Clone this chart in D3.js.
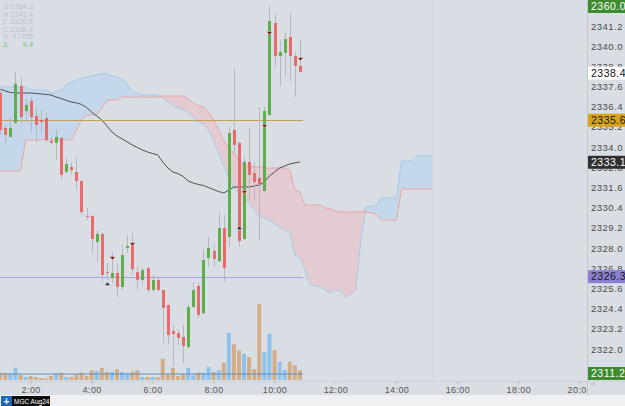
<!DOCTYPE html>
<html><head><meta charset="utf-8">
<script src="https://cdn.jsdelivr.net/npm/d3@7"></script>
<style>
html,body{margin:0;padding:0;background:#d9dee5;overflow:hidden;}
svg{display:block;}
</style></head><body>
<svg id="c" width="625" height="406"></svg>
<script>
// ---------- DATA ----------
const times = [
"01:00","01:10","01:20","01:30","01:40","01:50",
"02:00","02:10","02:20","02:30","02:40","02:50",
"03:00","03:10","03:20","03:30","03:40","03:50",
"04:00","04:10","04:20","04:30","04:40","04:50",
"05:00","05:10","05:20","05:30","05:40","05:50",
"06:00","06:10","06:20","06:30","06:40","06:50",
"07:00","07:10","07:20","07:30","07:40","07:50",
"08:00","08:10","08:20","08:30","08:40","08:50",
"09:00","09:10","09:20","09:30","09:40","09:50",
"10:00","10:10","10:20","10:30","10:40","10:50",
"11:00","11:10","11:20","11:30","11:40","11:50",
"12:00","12:10","12:20","12:30","12:40","12:50",
"13:00","13:10","13:20","13:30","13:40","13:50",
"14:00","14:10","14:20","14:30","14:40","14:50",
"15:00","15:10"];

const opens = [2337.22,2335.14,2334.61,2335.44,2337.64,2336.15,2336.75,2335.85,2335.62,2335.73,
2334.37,2334.25,2334.55,2332.52,2332.82,2332.52,2331.99,2329.91,2329.91,2328.36,
2328.84,2326.57,2326.22,2326.52,2325.69,2328.01,2328.18,2326.57,2326.10,2326.81,
2325.51,2326.10,2325.51,2324.62,2323.07,2322.95,2322.72,2322.12,2324.50,2325.75,
2324.14,2327.41,2327.83,2327.23,2329.19,2328.66,2335.02,2334.25,2328.54,2333.12,
2332.46,2332.17,2331.40,2335.91,2341.38,2339.42,2339.60,2340.55,2339.42,2338.83];
const highs = [2337.52,2335.32,2335.79,2338.47,2338.17,2336.86,2336.98,2336.33,2336.27,2336.03,
2334.61,2335.02,2334.61,2333.36,2333.06,2333.42,2332.05,2330.38,2329.97,2329.07,
2328.90,2327.11,2327.77,2327.11,2328.18,2328.78,2328.90,2326.87,2326.87,2326.93,
2326.40,2326.34,2325.51,2324.62,2323.43,2323.15,2323.43,2324.74,2325.98,2325.98,
2327.89,2328.66,2328.18,2330.15,2329.97,2335.20,2338.71,2334.31,2333.42,2335.14,
2333.06,2336.39,2336.39,2342.39,2341.92,2340.31,2340.79,2341.98,2339.66,2340.43];
const lows = [2334.72,2334.25,2334.55,2335.38,2335.44,2335.50,2334.84,2334.31,2334.90,2334.31,
2334.13,2333.24,2332.05,2332.46,2332.35,2331.45,2329.97,2329.67,2327.71,2327.17,
2325.98,2326.10,2325.92,2325.09,2325.51,2327.71,2326.40,2325.51,2325.80,2325.33,
2325.39,2325.39,2322.36,2322.24,2320.99,2322.24,2321.17,2322.06,2324.44,2323.84,
2324.08,2326.88,2326.88,2327.17,2325.98,2328.07,2333.65,2328.07,2328.48,2330.86,
2330.86,2328.48,2331.34,2335.85,2338.71,2337.64,2338.23,2337.93,2336.98,2338.41];
const closes = [2335.02,2334.72,2335.14,2337.76,2335.79,2336.51,2335.79,2335.32,2335.50,2334.43,
2334.25,2334.61,2332.35,2333.00,2332.64,2331.99,2330.15,2329.88,2328.54,2328.84,
2326.40,2326.55,2326.52,2325.69,2327.59,2328.13,2326.75,2326.10,2326.69,2325.51,
2326.10,2325.51,2324.44,2322.83,2322.89,2322.66,2322.18,2324.50,2325.51,2324.02,
2327.29,2328.01,2327.35,2329.19,2326.82,2334.84,2334.13,2328.42,2333.12,2332.35,
2331.93,2331.81,2336.15,2341.50,2339.42,2339.66,2340.43,2339.42,2338.83,2338.47];
const volumes = [290,290,250,490,200,120,160,120,80,55,
160,250,290,120,130,230,290,160,390,360,
480,330,330,430,320,270,330,390,120,120,
120,120,850,230,490,160,230,490,190,290,
290,520,320,390,690,1890,1430,1190,1050,920,
430,3040,1120,1850,1190,730,400,730,590,390];
const volumeAverage = 240;

const smaValues = [2337.46,2337.34,2337.25,2337.22,2337.22,2337.22,2337.22,2337.19,2337.16,2337.13,
2337.10,2336.98,2336.89,2336.78,2336.69,2336.63,2336.54,2336.36,2336.09,2335.85,
2335.62,2335.26,2334.90,2334.66,2334.49,2334.31,2334.13,2333.98,2333.83,2333.71,
2333.62,2333.54,2333.12,2332.76,2332.52,2332.43,2332.26,2331.99,2331.87,2331.78,
2331.72,2331.60,2331.48,2331.36,2331.28,2331.45,2331.63,2331.63,2331.63,2331.63,
2331.69,2331.75,2331.93,2332.29,2332.52,2332.76,2332.88,2333.00,2333.06,2333.12];

const spanA = [2337.64,2337.58,2337.58,2337.58,2337.58,2337.58,2337.40,2337.40,2337.40,2337.40,
2337.22,2337.28,2337.40,2337.70,2337.87,2337.99,2338.11,2338.17,2338.23,2338.29,
2338.35,2338.35,2338.23,2338.17,2338.05,2337.76,2337.28,2337.16,2337.10,2337.10,
2337.10,2337.10,2336.92,2336.69,2336.45,2336.33,2336.21,2336.09,2335.79,2335.50,
2335.38,2335.02,2334.43,2333.65,2332.94,2332.17,2331.57,2331.28,2330.98,2330.68,
2330.27,2329.91,2329.79,2329.67,2329.43,2329.25,2329.07,2328.96,2327.59,2327.41,
2326.70,2325.81,2325.75,2325.69,2325.51,2325.33,2325.51,2325.45,2325.09,2325.27,
2325.51,2328.48,2330.44,2330.50,2330.50,2330.98,2330.98,2330.98,2330.98,2333.18,
2333.18,2333.18,2333.48,2333.48,2333.48,2333.48];
const spanB = [2332.58,2332.58,2332.58,2332.58,2332.58,2334.43,2334.43,2334.43,2334.43,2334.43,
2334.43,2334.43,2334.43,2334.43,2334.43,2335.02,2335.62,2335.91,2335.91,2335.91,
2336.33,2336.75,2336.81,2336.81,2336.98,2336.98,2336.98,2336.98,2336.98,2336.98,
2336.98,2336.98,2337.04,2337.04,2337.04,2337.04,2337.04,2336.86,2336.63,2336.45,
2336.39,2336.09,2335.62,2335.02,2334.43,2333.95,2333.65,2333.18,2332.94,2332.88,
2332.82,2332.82,2332.76,2332.76,2332.76,2332.76,2332.76,2332.64,2331.45,2331.34,
2330.56,2330.56,2330.56,2330.56,2330.38,2330.33,2330.21,2330.15,2330.15,2330.15,
2330.15,2330.15,2330.15,2330.09,2330.03,2329.67,2329.67,2329.67,2329.67,2331.51,
2331.51,2331.51,2331.51,2331.51,2331.51,2331.51];

const sellMarkerIdx = [22,26,48,52,53,59];
const sellMarkerPrice = [2327.41,2328.24,2331.34,2335.26,2340.79,2339.24];
const buyMarkerIdx = [21,47];
const buyMarkerPrice = [2325.87,2329.19];

const levelPrices = [2335.6, 2326.3];
const yTickValues = [2341.2,2340.0,2338.8,2337.6,2336.4,2335.2,2334.0,2332.8,2331.6,2330.4,
2329.2,2328.0,2326.8,2325.6,2324.4,2323.2,2322.0,2320.8];
const xTickLabels = ["02:00","04:00","06:00","08:00","10:00","12:00","14:00","16:00","18:00","20:00"];
const badgeValues = [2360.0, 2338.4, 2335.6, 2333.1, 2326.3, 2311.2];
const legendKeys = ["O","H","L","C","V","\u0394"];
const legendValues = ["2334.0","2342.4","2320.6","2338.4","57705","9.4"];
const symbolLabel = "MGC Aug24";

// ---------- SCALES ----------
const svg = d3.select("#c");
const plotW = 587, plotH = 381;
const parse = d3.timeParse("%H:%M");
const x = d3.scaleTime().domain([parse("01:00"), parse("21:00")]).range([0.2, 609.8]);
const y = d3.scaleLinear().domain([2320.10, 2342.745]).range([plotH, 0]);
const yv = d3.scaleLinear().domain([0, d3.max(volumes)]).range([380, 304]);
const xi = i => x(parse(times[i]));

svg.append("rect").attr("width",625).attr("height",406).attr("fill","#d9dee5");

const defs = svg.append("defs");
defs.append("clipPath").attr("id","plotclip").append("rect")
  .attr("x",0).attr("y",0).attr("width",plotW).attr("height",plotH);

const g = svg.append("g").attr("clip-path","url(#plotclip)");

// ---------- CLOUD ----------
const idx = d3.range(spanA.length);
const areaUp = d3.area().x(i => xi(i))
  .y0(i => y(spanB[i])).y1(i => y(Math.max(spanA[i], spanB[i])));
const areaDown = d3.area().x(i => xi(i))
  .y0(i => y(spanA[i])).y1(i => y(Math.max(spanA[i], spanB[i])));
g.append("path").datum(idx).attr("d", areaUp).attr("fill","#c5d7ea");
g.append("path").datum(idx).attr("d", areaDown).attr("fill","#e4cbd1");
g.append("path").datum(idx).attr("d", d3.line().x(i=>xi(i)).y(i=>y(spanA[i])))
  .attr("fill","none").attr("stroke","#a6cae8").attr("stroke-width",1);
g.append("path").datum(idx).attr("d", d3.line().x(i=>xi(i)).y(i=>y(spanB[i])))
  .attr("fill","none").attr("stroke","#eba6a6").attr("stroke-width",1);
g.append("line").attr("x1", xi(idx.length-1)+0.5).attr("x2", xi(idx.length-1)+0.5)
  .attr("y1",0).attr("y2",plotH).attr("stroke","#d0d5dc").attr("stroke-width",1);

// ---------- VOLUME ----------
const ci = d3.range(opens.length);
g.selectAll("rect.vol").data(ci).join("rect").attr("class","vol")
  .attr("x", i => xi(i)-2).attr("width",4)
  .attr("y", i => yv(volumes[i])).attr("height", i => 380 - yv(volumes[i]))
  .attr("fill", i => closes[i] >= opens[i] ? "#8ec2ea" : "#d2ad88");
g.append("line").attr("x1",0).attr("x2", xi(opens.length-1)+3)
  .attr("y1", yv(volumeAverage)).attr("y2", yv(volumeAverage))
  .attr("stroke","#5b8fc0").attr("stroke-width",1);

// ---------- SMA ----------
g.append("path").datum(ci).attr("d", d3.line().x(i=>xi(i)).y(i=>y(smaValues[i])))
  .attr("fill","none").attr("stroke","#4d4f52").attr("stroke-width",1);

// ---------- LEVEL LINES ----------
const levelColors = ["#c9a14e","#ad9ff0"];
levelPrices.forEach((p,k) => {
  g.append("rect").attr("x",0).attr("width", xi(opens.length-1)+3)
    .attr("y", Math.round(y(p))).attr("height",1)
    .attr("fill", levelColors[k]);
});

// ---------- CANDLES ----------
g.selectAll("line.wick").data(ci).join("line").attr("class","wick")
  .attr("x1", i => Math.round(xi(i))+0.5).attr("x2", i => Math.round(xi(i))+0.5)
  .attr("y1", i => y(highs[i])).attr("y2", i => y(lows[i]))
  .attr("stroke","#b5b9bf").attr("stroke-width",1);
g.selectAll("rect.body").data(ci).join("rect").attr("class","body")
  .attr("x", i => Math.round(xi(i))-1).attr("width",3)
  .attr("y", i => y(Math.max(opens[i],closes[i])))
  .attr("height", i => Math.max(1, Math.abs(y(opens[i]) - y(closes[i]))))
  .attr("fill", i => closes[i] >= opens[i] ? "#5fae4b" : "#e86a6b");

// ---------- MARKERS ----------
sellMarkerIdx.forEach((i,k) => {
  const cx = Math.round(xi(i))+0.5, cy = y(sellMarkerPrice[k]);
  g.append("path").attr("d", `M${cx-3},${cy-1.5}L${cx+3},${cy-1.5}L${cx},${cy+2}Z`)
    .attr("fill","#7a1414").attr("stroke","#f4f4f4").attr("stroke-width",0.5);
});
buyMarkerIdx.forEach((i,k) => {
  const cx = Math.round(xi(i))+0.5, cy = y(buyMarkerPrice[k]);
  g.append("path").attr("d", `M${cx-3},${cy+1.5}L${cx+3},${cy+1.5}L${cx},${cy-2}Z`)
    .attr("fill","#1c2640").attr("stroke","#f4f4f4").attr("stroke-width",0.5);
});

// ---------- AXES ----------
svg.append("line").attr("x1",587.5).attr("x2",587.5).attr("y1",0).attr("y2",381)
  .attr("stroke","#c3c8cf");
svg.append("line").attr("x1",0).attr("x2",625).attr("y1",381.5).attr("y2",381.5)
  .attr("stroke","#cdd2d9");

const yAxis = svg.append("g").attr("transform","translate(587,0)")
  .call(d3.axisRight(y).tickValues(yTickValues).tickFormat(d3.format(".1f")).tickSize(0).tickPadding(4));
yAxis.select(".domain").remove();
yAxis.selectAll("text").attr("fill","#4a4a4a")
  .style("font-family","'Liberation Sans', Arial, sans-serif").style("font-size","9.5px")
  .style("letter-spacing","0.5px");

const xAxisG = svg.append("g").attr("transform","translate(0,381)")
  .call(d3.axisBottom(x).tickValues(xTickLabels.map(parse)).tickFormat(d3.timeFormat("%-H:%M")).tickSize(3).tickPadding(3));
xAxisG.select(".domain").remove();
xAxisG.selectAll("line").attr("stroke","#b9bec5");
xAxisG.selectAll("text").attr("fill","#555")
  .style("font-family","'Liberation Sans', Arial, sans-serif").style("font-size","9px")
  .style("letter-spacing","0.4px");
svg.append("rect").attr("x",588).attr("y",382).attr("width",37).attr("height",13).attr("fill","#d9dee5");
svg.append("line").attr("x1",587.5).attr("x2",587.5).attr("y1",381).attr("y2",395).attr("stroke","#c3c8cf");
svg.append("path").attr("d","M590,384L595,384M593,382L595,384L593,386").attr("stroke","#b8bdc4").attr("fill","none");

// ---------- BADGES ----------
const badgeFill = ["#3d8b2e","#ffffff","#d6a319","#2e2f31","#8c7ed0","#3d8b2e"];
const badgeText = ["#ffffff","#111111","#1a1a1a","#ffffff","#1a1a1a","#ffffff"];
badgeValues.forEach((v,k) => {
  const cy = Math.max(6.5, Math.min(373.5, y(v)));
  svg.append("rect").attr("x",588).attr("y",cy-6.5).attr("width",37).attr("height",13)
    .attr("fill",badgeFill[k]);
  svg.append("text").attr("x",591).attr("y",cy+3.5).text(d3.format(".1f")(v))
    .attr("fill",badgeText[k])
    .style("font-family","'Liberation Sans', Arial, sans-serif").style("font-size","10.5px")
    .style("letter-spacing","0.5px");
});

// ---------- LEGEND ----------
legendKeys.forEach((k,i) => {
  const ly = 9 + i*7.6;
  const col = i === 5 ? "#6cc56c" : "#b9bec6";
  svg.append("text").attr("x",3).attr("y",ly).text(k).attr("fill",col)
    .style("font-family","'Liberation Sans', Arial, sans-serif").style("font-size","7px");
  svg.append("text").attr("x",33.5).attr("y",ly).attr("text-anchor","end").text(legendValues[i])
    .attr("fill",col)
    .style("font-family","'Liberation Sans', Arial, sans-serif").style("font-size","7px")
    .style("letter-spacing","0.3px");
});

// ---------- BOTTOM STRIP ----------
svg.append("rect").attr("x",0).attr("y",395).attr("width",625).attr("height",11).attr("fill","#eef0f2");
svg.append("rect").attr("x",1).attr("y",396).attr("width",11).attr("height",10).attr("fill","#1b66b5");
svg.append("text").attr("x",6.5).attr("y",404.5).attr("text-anchor","middle").text("+")
  .attr("fill","#fff").style("font-family","'Liberation Sans', Arial, sans-serif").style("font-size","10px").style("font-weight","bold");
svg.append("rect").attr("x",12).attr("y",396).attr("width",38).attr("height",10).attr("fill","#0d0d0d");
svg.append("text").attr("x",14).attr("y",403.5).text(symbolLabel)
  .attr("fill","#fff").style("font-family","'Liberation Sans', Arial, sans-serif").style("font-size","6.5px");
</script>
</body></html>
